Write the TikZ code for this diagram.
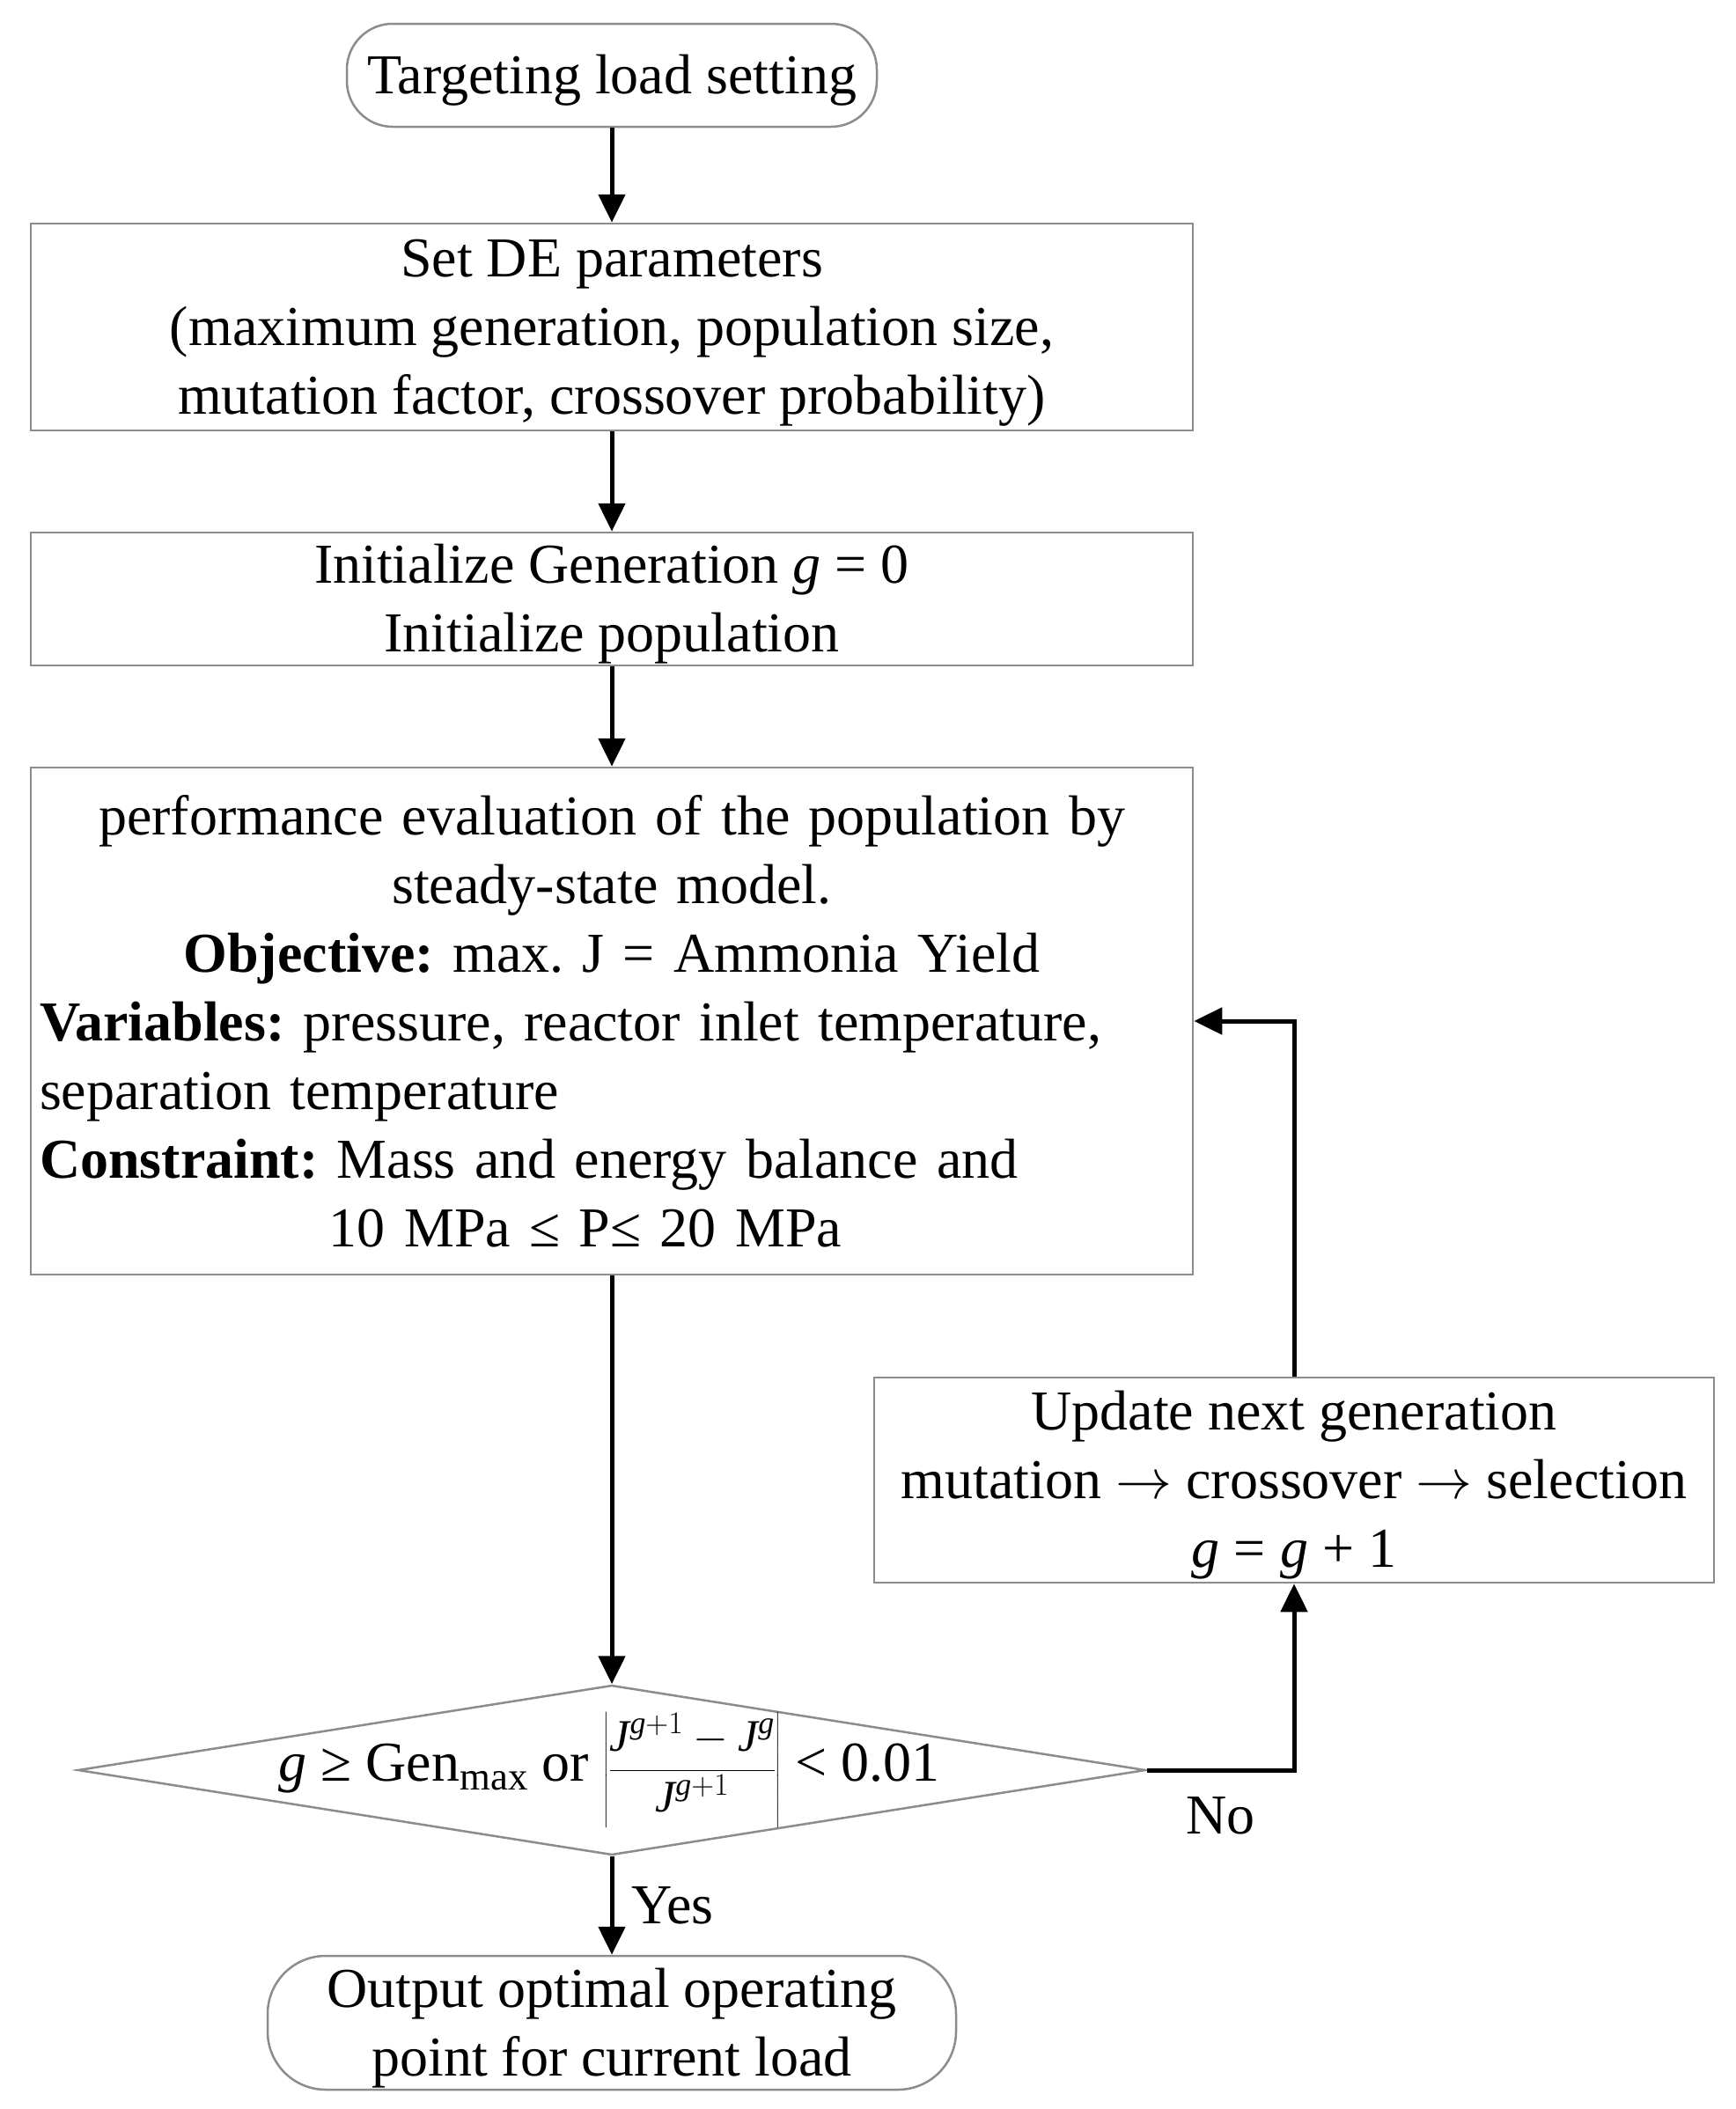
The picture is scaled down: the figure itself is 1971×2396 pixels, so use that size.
\RequirePackage{fix-cm}
\documentclass[tikz,border=0pt]{standalone}
\usepackage{amsmath}
\usepackage{graphicx}
\usepackage{fontspec}
\setmainfont{Liberation Serif}
\usetikzlibrary{shapes.geometric,arrows.meta}
\newcommand\mytopstrut{\rule{0pt}{56pt}}
\tikzset{
  boxbase/.style={draw=black!45, line width=2.5pt, rectangle, inner sep=10pt},
  box/.style={boxbase, align=center, inner sep=0pt},
  term/.style={box},
  arr/.style={line width=5pt, -{Triangle[length=32pt,width=30pt]}},
  lbl/.style={inner sep=8pt},
}
\begin{document}
\frenchspacing
\begin{tikzpicture}[x=1pt, y=-1pt, font=\fontsize{64}{78}\selectfont]
\useasboundingbox[fill=white] (0,0) rectangle (1971,2396);

\node[term, rounded corners=52pt, minimum width=602pt, minimum height=117pt] (t1) at (695,85.5) {\mytopstrut Targeting load setting};

\node[box, minimum width=1320pt, minimum height=235pt] (b2) at (695,371.5)
  {\mytopstrut Set DE parameters\\(maximum generation, population size,\\mutation factor, crossover probability)};

\node[box, minimum width=1320pt, minimum height=151pt] (b3) at (695,680.5)
  {\mytopstrut Initialize Generation \textit{g} = 0\\Initialize population};

\node[boxbase, text width=1300pt, minimum height=576pt] (b4) at (695,1160)
  {\parindent=0pt\frenchspacing
   {\centering performance evaluation of the population by\\
    steady-state model.\\
    \textbf{Objective:} max. J = Ammonia Yield\par}
   {\raggedright \textbf{Variables:} pressure, reactor inlet temperature,\\
    separation temperature\\
    \textbf{Constraint:} Mass and energy balance and\par}
   {\centering 10 MPa ≤ P≤ 20 MPa\hspace*{60pt}\par}};

\node[box, minimum width=954pt, minimum height=233pt] (b5) at (1470,1681.5)
  {\mytopstrut Update next generation\\mutation $\rightarrow$ crossover $\rightarrow$ selection\\\textit{g} = \textit{g} + 1};

\node[diamond, draw=black!45, line width=2.5pt, minimum width=1213pt, minimum height=193pt, inner sep=0pt, aspect=6.28] (dec) at (695,2011) {};
\node[inner sep=0pt] (dtxt) at (692,2011)
  {\textit{g} ≥ Gen\textsubscript{max} or
   \raisebox{0pt}{\scalebox{0.8}{$\left|\dfrac{\textit{J}^{\textit{g}+1}-\textit{J}^{\textit{g}}}{\textit{J}^{\textit{g}+1}}\right|$}} < 0.01};

\node[term, rounded corners=66pt, minimum width=782pt, minimum height=152pt] (t2) at (695,2298)
  {\mytopstrut Output optimal operating\\point for current load};

\draw[arr] (t1) -- (b2);
\draw[arr] (b2) -- (b3);
\draw[arr] (b3) -- (b4);
\draw[arr] (b4) -- (dec.north);
\draw[arr] (dec.south) -- node[lbl, right, xshift=12pt] {Yes} (t2);
\draw[arr] (dec.east) -| node[lbl, below, pos=0.25, yshift=-20pt] {No} (b5.south);
\draw[arr] (b5.north) |- (b4.east);
\end{tikzpicture}
\end{document}
